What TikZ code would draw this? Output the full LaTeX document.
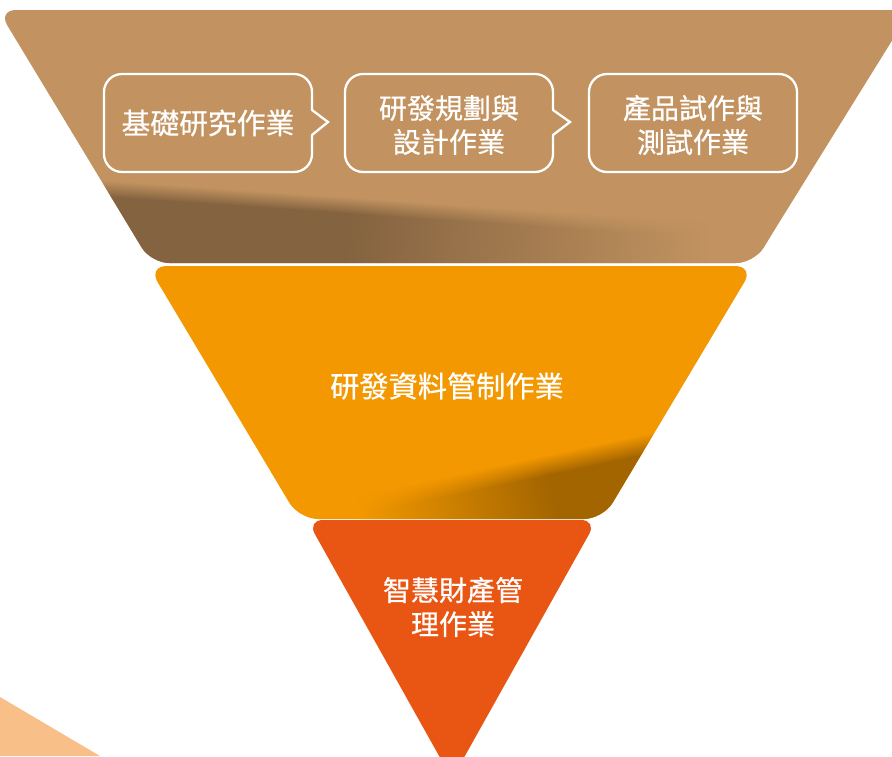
\documentclass[tikz,border=0pt]{standalone}
\usepackage{fontspec}
\newfontfamily\cjk[FakeBold=0.6]{Noto Sans CJK TC}
\usetikzlibrary{fadings}
\definecolor{tanc}{HTML}{C29360}
\definecolor{tandark}{HTML}{846340}
\definecolor{orangec}{HTML}{F39800}
\definecolor{orangedark}{HTML}{A36500}
\definecolor{redc}{HTML}{E95513}
\definecolor{lightc}{HTML}{F8BF88}
\pgfdeclarehorizontalshading{glossA}{100bp}{color(0bp)=(tandark); color(44bp)=(tandark); color(68bp)=(tanc); color(100bp)=(tanc)}
\pgfdeclarehorizontalshading{glossB}{100bp}{color(0bp)=(orangec); color(25bp)=(orangec); color(52bp)=(orangedark); color(100bp)=(orangedark)}
\begin{document}
\begin{tikzpicture}[x=1pt,y=-1pt,
  txt/.style={text=white, font=\cjk\fontsize{28}{34}\selectfont, align=center, inner sep=0pt},
  boxline/.style={draw=white, line width=2.3pt, rounded corners=18pt, line cap=round},
  tipline/.style={draw=white, line width=2.3pt, line join=miter, line cap=round}]
\useasboundingbox (0,0) rectangle (892,756);
\clip (0,0) rectangle (892,756);

% light triangle bottom left
\fill[lightc] (0,697) -- (100,756) -- (0,756) -- cycle;

% top trapezoid
\coordinate (A1) at (-2,10);
\coordinate (A2) at (911,10);
\coordinate (A3) at (754,263);
\coordinate (A4) at (151,263);
\fill[tanc, rounded corners=18pt] (A1) -- (A2) -- (A3) -- (A4) -- cycle;
\begin{scope}
  \clip[rounded corners=18pt] (A1) -- (A2) -- (A3) -- (A4) -- cycle;
  \begin{scope}[transform canvas={shift={(100,196)}, rotate=-3.95}]
    \shade[shading=glossA] (-40,0) rectangle (720,160);
    \shade[shading=glossA, path fading=north] (-40,-16) rectangle (720,0.5);
  \end{scope}
\end{scope}

% middle trapezoid
\coordinate (B1) at (148,266);
\coordinate (B2) at (754,266);
\coordinate (B3) at (603,519);
\coordinate (B4) at (299,519);
\fill[orangec, rounded corners=19pt] (B1) -- (B2) -- (B3) -- (B4) -- cycle;
\begin{scope}
  \clip[rounded corners=19pt] (B1) -- (B2) -- (B3) -- (B4) -- cycle;
  \begin{scope}[transform canvas={shift={(300,528)}, rotate=12.06}]
    \shade[shading=glossB] (60,0) rectangle (420,160);
    \shade[shading=glossB, path fading=north] (60,-20) rectangle (420,0.5);
  \end{scope}
\end{scope}

% bottom triangle
\coordinate (C1) at (307,520);
\coordinate (C2) at (597,520);
\coordinate (C3) at (452,779);
\fill[redc, rounded corners=16pt] (C1) -- (C2) -- (C3) -- cycle;

% callout boxes
\draw[boxline] (312,110) -- (312,74) -- (104,74) -- (104,172) -- (312,172) -- (312,135);
\draw[tipline] (312,110) -- (328,122) -- (312,135);
\draw[boxline] (553,110) -- (553,74) -- (345,74) -- (345,172) -- (553,172) -- (553,135);
\draw[tipline] (553,110) -- (570,122) -- (553,135);
\draw[boxline] (589,74) rectangle (797,172);

% texts
\node[txt, font=\cjk\fontsize{28.8}{34}\selectfont] (t1) at (208,123) {基礎研究作業};
\node[txt] (t2) at (449,125) {研發規劃與\\設計作業};
\node[txt] (t3) at (693,125) {產品試作與\\測試作業};
\node[txt, font=\cjk\fontsize{29.2}{34}\selectfont] (t4) at (447,386) {研發資料管制作業};
\node[txt] (t5) at (453,607) {智慧財產管\\理作業};
\end{tikzpicture}
\end{document}
